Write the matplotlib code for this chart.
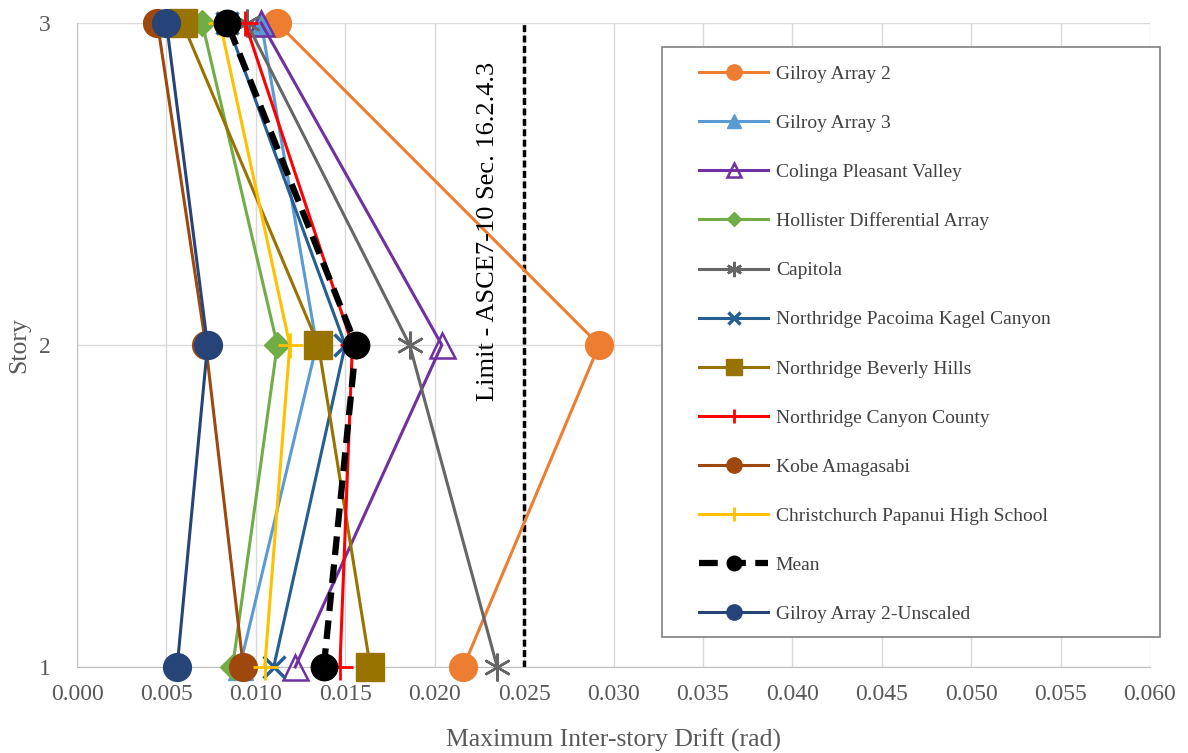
import matplotlib.pyplot as plt
from matplotlib.patches import Rectangle

stories = [1, 2, 3]

# drift values per story (1, 2, 3)
gilroy2 = [0.0216, 0.0292, 0.0112]
gilroy3 = [0.0091, 0.0134, 0.0103]
colinga = [0.0122, 0.0204, 0.0103]
hollister = [0.0087, 0.0112, 0.0070]
capitola = [0.0235, 0.0186, 0.0095]
pacoima = [0.0110, 0.0150, 0.0084]
beverly = [0.0164, 0.0135, 0.0059]
canyon = [0.0147, 0.0154, 0.0094]
kobe = [0.0093, 0.0072, 0.0045]
christchurch = [0.0105, 0.0119, 0.0080]
mean = [0.0138, 0.0156, 0.0084]
gilroy2_unscaled = [0.0056, 0.0073, 0.0050]

limit = 0.025

plt.rcParams['font.family'] = ['Liberation Serif', 'DejaVu Serif']

W, H = 1188, 753
fig = plt.figure(figsize=(W / 100, H / 100), dpi=100)
ax = fig.add_axes([77 / W, 1 - 667 / H, (1150 - 77) / W, (667 - 23) / H])

series = [
    ("Gilroy Array 2", gilroy2, dict(color="#ED7D31", marker="o", ms=20)),
    ("Gilroy Array 3", gilroy3, dict(color="#5B9BD5", marker="^", ms=18)),
    ("Colinga Pleasant Valley", colinga, dict(color="#7030A0", marker="^", ms=18,
                                               mfc="none", mew=1.8)),
    ("Hollister Differential Array", hollister, dict(color="#70AD47", marker="D", ms=13)),
    ("Capitola", capitola, dict(color="#666666", marker=(6, 2, 0), ms=20, mew=1.8)),
    ("Northridge Pacoima Kagel Canyon", pacoima, dict(color="#255E91", marker="x", ms=16, mew=2.5)),
    ("Northridge Beverly Hills", beverly, dict(color="#997300", marker="s", ms=20)),
    ("Northridge Canyon County", canyon, dict(color="#FF0000", marker="+", ms=18, mew=2)),
    ("Kobe Amagasabi", kobe, dict(color="#9E480E", marker="o", ms=20)),
    ("Christchurch Papanui High School", christchurch, dict(color="#FFC000", marker="+", ms=18, mew=2)),
]

for name, vals, st in series:
    ax.plot(vals, stories, lw=2.2, label=name, clip_on=False, zorder=3, **st)

ax.plot(mean, stories, color="black", lw=4.5, ls=(0, (3, 1.5)), marker="o", ms=19,
        label="Mean", clip_on=False, zorder=3)
ax.plot(gilroy2_unscaled, stories, color="#264478", lw=2.2, marker="o", ms=20,
        label="Gilroy Array 2-Unscaled", clip_on=False, zorder=3)

ax.plot([limit, limit], [1, 3], color="black", lw=2.5, ls=(0, (2, 1)), zorder=2)
ax.text(limit - 0.002, 2.354, "Limit - ASCE7-10 Sec. 16.2.4.3", rotation=90,
        ha="center", va="center", fontsize=19, color="black")

ax.set_xlim(0, 0.06)
ax.set_ylim(1, 3)
ax.set_xticks([i * 0.005 for i in range(13)])
ax.set_xticklabels([f"{i * 0.005:.3f}" for i in range(13)])
ax.set_yticks(stories)
ax.grid(True, color="#D9D9D9", lw=1)
ax.set_axisbelow(True)
ax.tick_params(length=0, labelsize=17, labelcolor="#595959")
ax.tick_params(axis="x", pad=12)
ax.tick_params(axis="y", pad=19)
for s in ["top", "right"]:
    ax.spines[s].set_visible(False)
for s in ["left", "bottom"]:
    ax.spines[s].set_color("#BFBFBF")

ax.set_xlabel("Maximum Inter-story Drift (rad)", fontsize=18.5, color="#595959", labelpad=17)
ax.set_ylabel("Story", fontsize=18.5, color="#595959", labelpad=6)

# legend frame drawn separately (Excel style box with wide left margin)
fig.patches.append(Rectangle((662 / W, 1 - 637 / H), (1160 - 662) / W, (637 - 47) / H,
                             transform=fig.transFigure, facecolor="white",
                             edgecolor="#7F7F7F", lw=1.2, zorder=4))
leg = fig.legend(*ax.get_legend_handles_labels(), loc="upper left",
                 bbox_to_anchor=(699 / W, 1 - 65 / H),
                 fontsize=14, labelcolor="#404040", markerscale=0.55, handlelength=3.55,
                 labelspacing=1.62, borderpad=0.0, handletextpad=0.4, frameon=False,
                 borderaxespad=0)
leg.set_zorder(5)

fig.savefig("out.png", dpi=100)
